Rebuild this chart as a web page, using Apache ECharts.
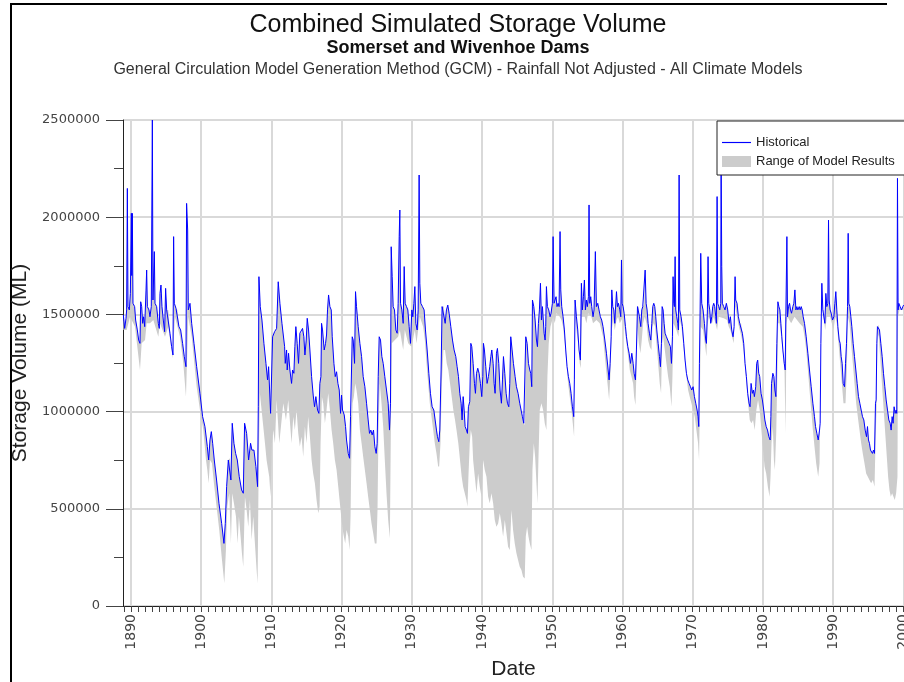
<!DOCTYPE html>
<html>
<head>
<meta charset="utf-8">
<script src="https://cdn.jsdelivr.net/npm/echarts@6/dist/echarts.min.js"></script>
<style>
  html, body { margin: 0; padding: 0; background: #fff; }
  #chart { width: 904px; height: 682px; }
</style>
</head>
<body>
<div id="chart"></div>
<script>
// decade labels on the date axis
var decades = [1890, 1900, 1910, 1920, 1930, 1940, 1950, 1960, 1970, 1980, 1990, 2000];

// historical storage volume (ML), [decimal year, volume]
var historical = [
  [1888.91,1497000],[1889.10,1428000],[1889.29,1480000],[1889.38,1523000],[1889.48,2148000],[1889.57,1540000],[1889.76,1523000],[1889.91,1608000],
  [1890.05,2020000],[1890.10,1700000],[1890.19,2020000],[1890.28,1557000],[1890.52,1540000],[1890.66,1471000],[1890.90,1420000],[1891.09,1368000],
  [1891.28,1351000],[1891.38,1565000],[1891.52,1540000],[1891.66,1454000],[1891.80,1488000],[1891.95,1437000],[1892.14,1625000],[1892.23,1728000],
  [1892.33,1540000],[1892.56,1523000],[1892.70,1488000],[1892.89,1540000],[1893.04,2500000],[1893.13,1574000],[1893.32,1823000],[1893.42,1557000],
  [1893.65,1540000],[1893.89,1454000],[1894.03,1428000],[1894.13,1608000],[1894.27,1651000],[1894.41,1540000],[1894.60,1471000],[1894.79,1411000],
  [1894.93,1634000],[1895.08,1523000],[1895.31,1523000],[1895.55,1403000],[1895.79,1334000],[1895.98,1291000],[1896.07,1900000],[1896.17,1557000],
  [1896.41,1531000],[1896.60,1523000],[1896.83,1437000],[1897.07,1420000],[1897.35,1351000],[1897.59,1283000],[1897.83,1231000],[1897.92,2071000],
  [1898.07,1934000],[1898.16,1523000],[1898.40,1557000],[1898.64,1454000],[1898.97,1351000],[1899.35,1231000],[1899.82,1094000],[1900.20,974000],
  [1900.53,923000],[1900.87,820000],[1901.06,751000],[1901.25,854000],[1901.44,897000],[1901.63,837000],[1901.86,751000],[1902.19,648000],
  [1902.53,528000],[1902.91,425000],[1903.24,322000],[1903.43,425000],[1903.62,614000],[1903.86,751000],[1904.09,760000],[1904.23,648000],
  [1904.42,940000],[1904.66,837000],[1904.90,785000],[1905.14,751000],[1905.42,665000],[1905.75,597000],[1905.99,580000],[1906.18,940000],
  [1906.47,888000],[1906.75,751000],[1907.03,837000],[1907.22,802000],[1907.51,802000],[1907.79,717000],[1908.03,614000],[1908.13,1025000],
  [1908.22,1694000],[1908.41,1540000],[1908.65,1471000],[1908.93,1351000],[1909.22,1248000],[1909.45,1163000],[1909.60,1231000],[1909.88,991000],
  [1910.02,1000000],[1910.17,1385000],[1910.45,1411000],[1910.74,1428000],[1910.97,1668000],[1911.21,1557000],[1911.50,1454000],[1911.88,1334000],
  [1911.97,1248000],[1912.16,1317000],[1912.25,1214000],[1912.44,1300000],[1912.63,1214000],[1912.87,1145000],[1913.01,1214000],[1913.20,1197000],
  [1913.34,1334000],[1913.48,1437000],[1913.67,1351000],[1913.86,1248000],[1914.05,1403000],[1914.24,1403000],[1914.43,1428000],[1914.62,1385000],
  [1914.77,1291000],[1914.96,1368000],[1915.10,1480000],[1915.29,1420000],[1915.48,1317000],[1915.72,1180000],[1915.95,1085000],[1916.14,1025000],
  [1916.33,1077000],[1916.57,1008000],[1916.76,991000],[1916.90,1145000],[1917.05,1180000],[1917.14,1454000],[1917.28,1420000],[1917.52,1317000],
  [1917.71,1351000],[1917.85,1394000],[1917.99,1523000],[1918.14,1600000],[1918.33,1540000],[1918.52,1523000],[1918.66,1385000],[1918.90,1248000],
  [1919.09,1180000],[1919.28,1205000],[1919.47,1145000],[1919.66,1111000],[1919.85,991000],[1919.99,1085000],[1920.13,1008000],[1920.37,983000],
  [1920.56,923000],[1920.70,854000],[1920.94,785000],[1921.13,760000],[1921.27,974000],[1921.41,983000],[1921.51,1385000],[1921.65,1368000],
  [1921.84,1248000],[1921.98,1617000],[1922.12,1540000],[1922.36,1437000],[1922.60,1351000],[1922.84,1283000],[1923.07,1180000],[1923.31,1128000],
  [1923.55,1043000],[1923.78,957000],[1923.97,888000],[1924.16,905000],[1924.35,880000],[1924.54,905000],[1924.73,820000],[1924.92,785000],
  [1925.06,837000],[1925.21,1180000],[1925.35,1385000],[1925.54,1368000],[1925.73,1283000],[1925.92,1248000],[1926.15,1180000],[1926.39,1111000],
  [1926.63,1043000],[1926.82,905000],[1926.96,1043000],[1927.06,1848000],[1927.20,1694000],[1927.34,1540000],[1927.53,1523000],[1927.72,1420000],
  [1927.91,1403000],[1928.05,1557000],[1928.20,1900000],[1928.29,2037000],[1928.39,1557000],[1928.58,1523000],[1928.77,1454000],[1928.91,1746000],
  [1929.05,1557000],[1929.24,1540000],[1929.43,1523000],[1929.62,1437000],[1929.81,1351000],[1930.00,1523000],[1930.14,1488000],[1930.29,1557000],
  [1930.43,1643000],[1930.57,1454000],[1930.76,1420000],[1930.90,1523000],[1931.04,2217000],[1931.14,1660000],[1931.28,1557000],[1931.52,1540000],
  [1931.75,1523000],[1931.94,1420000],[1932.18,1317000],[1932.42,1197000],[1932.65,1094000],[1932.89,1025000],[1933.13,1008000],[1933.32,957000],
  [1933.51,905000],[1933.65,871000],[1933.84,845000],[1933.98,905000],[1934.17,1214000],[1934.31,1540000],[1934.56,1540000],[1934.75,1454000],
  [1934.93,1523000],[1935.12,1548000],[1935.31,1506000],[1935.55,1437000],[1935.79,1368000],[1936.02,1317000],[1936.26,1283000],[1936.45,1231000],
  [1936.64,1180000],[1936.83,1094000],[1937.02,1043000],[1937.16,957000],[1937.31,1077000],[1937.45,1008000],[1937.59,923000],[1937.78,905000],
  [1937.92,888000],[1938.06,1025000],[1938.25,1051000],[1938.40,1351000],[1938.54,1334000],[1938.73,1248000],[1938.92,1145000],[1939.06,1094000],
  [1939.21,1197000],[1939.39,1223000],[1939.58,1197000],[1939.77,1145000],[1939.96,1077000],[1940.11,1180000],[1940.20,1351000],[1940.34,1317000],
  [1940.53,1231000],[1940.72,1145000],[1940.91,1180000],[1941.10,1231000],[1941.25,1283000],[1941.39,1317000],[1941.58,1248000],[1941.72,1145000],
  [1941.86,1094000],[1942.05,1300000],[1942.19,1325000],[1942.38,1248000],[1942.57,1111000],[1942.76,1043000],[1942.91,1163000],[1943.05,1283000],
  [1943.24,1197000],[1943.43,1094000],[1943.62,1043000],[1943.81,1025000],[1943.95,1145000],[1944.09,1385000],[1944.28,1317000],[1944.47,1248000],
  [1944.71,1180000],[1944.90,1128000],[1945.13,1094000],[1945.37,1043000],[1945.56,1008000],[1945.75,974000],[1945.94,940000],[1946.09,931000],
  [1946.23,1385000],[1946.42,1351000],[1946.61,1248000],[1946.80,1214000],[1946.94,1197000],[1947.08,1128000],[1947.18,1574000],[1947.37,1540000],
  [1947.56,1471000],[1947.75,1368000],[1947.89,1334000],[1948.03,1454000],[1948.17,1523000],[1948.32,1660000],[1948.46,1471000],[1948.60,1540000],
  [1948.84,1403000],[1948.98,1368000],[1949.07,1437000],[1949.17,1643000],[1949.31,1540000],[1949.50,1523000],[1949.69,1488000],[1949.83,1506000],
  [1950.02,1557000],[1950.12,1900000],[1950.26,1557000],[1950.40,1548000],[1950.54,1591000],[1950.68,1540000],[1950.83,1557000],[1950.97,1540000],
  [1951.11,1926000],[1951.21,1626000],[1951.35,1540000],[1951.54,1488000],[1951.73,1420000],[1951.92,1317000],[1952.11,1231000],[1952.30,1180000],
  [1952.49,1145000],[1952.68,1094000],[1952.87,1025000],[1953.06,974000],[1953.15,1163000],[1953.25,1574000],[1953.44,1488000],[1953.63,1420000],
  [1953.82,1317000],[1954.01,1265000],[1954.15,1660000],[1954.29,1523000],[1954.44,1591000],[1954.58,1677000],[1954.72,1523000],[1954.86,1574000],
  [1955.00,1540000],[1955.15,1591000],[1955.24,2063000],[1955.34,1557000],[1955.48,1591000],[1955.62,1540000],[1955.81,1488000],[1955.95,1523000],
  [1956.14,1823000],[1956.29,1540000],[1956.48,1557000],[1956.66,1523000],[1956.85,1488000],[1957.04,1471000],[1957.23,1437000],[1957.49,1368000],
  [1957.72,1300000],[1957.96,1214000],[1958.10,1163000],[1958.24,1248000],[1958.39,1385000],[1958.48,1626000],[1958.62,1540000],[1958.77,1523000],
  [1958.91,1454000],[1959.00,1523000],[1959.15,1617000],[1959.29,1540000],[1959.43,1557000],[1959.62,1523000],[1959.76,1488000],[1959.86,1780000],
  [1959.95,1557000],[1960.09,1540000],[1960.24,1506000],[1960.43,1437000],[1960.57,1385000],[1960.76,1334000],[1960.95,1300000],[1961.14,1248000],
  [1961.33,1300000],[1961.52,1248000],[1961.66,1197000],[1961.85,1163000],[1961.99,1317000],[1962.14,1540000],[1962.28,1540000],[1962.42,1488000],
  [1962.61,1437000],[1962.75,1523000],[1962.89,1540000],[1963.08,1548000],[1963.23,1728000],[1963.37,1557000],[1963.51,1523000],[1963.65,1454000],
  [1963.84,1403000],[1964.03,1368000],[1964.18,1454000],[1964.32,1540000],[1964.46,1557000],[1964.60,1540000],[1964.74,1488000],[1964.89,1420000],
  [1965.08,1351000],[1965.27,1283000],[1965.41,1231000],[1965.55,1351000],[1965.65,1540000],[1965.79,1523000],[1965.93,1454000],[1966.07,1403000],
  [1966.26,1385000],[1966.45,1368000],[1966.64,1351000],[1966.83,1334000],[1966.98,1248000],[1967.12,1385000],[1967.21,1694000],[1967.31,1557000],
  [1967.40,1540000],[1967.50,1797000],[1967.59,1523000],[1967.73,1488000],[1967.88,1454000],[1967.97,1420000],[1968.07,2217000],[1968.16,1523000],
  [1968.35,1488000],[1968.54,1437000],[1968.73,1351000],[1968.92,1265000],[1969.11,1197000],[1969.30,1163000],[1969.49,1145000],[1969.68,1128000],
  [1969.87,1111000],[1970.06,1128000],[1970.25,1077000],[1970.44,1043000],[1970.63,1008000],[1970.77,974000],[1970.87,923000],[1970.96,1248000],
  [1971.06,1523000],[1971.15,1814000],[1971.29,1557000],[1971.48,1523000],[1971.67,1454000],[1971.86,1368000],[1971.96,1351000],[1972.10,1523000],
  [1972.19,1797000],[1972.29,1557000],[1972.43,1523000],[1972.57,1454000],[1972.72,1488000],[1972.86,1540000],[1973.00,1557000],[1973.14,1540000],
  [1973.29,1488000],[1973.38,1454000],[1973.48,2106000],[1973.57,1557000],[1973.71,1540000],[1973.86,1523000],[1974.00,1557000],[1974.05,2350000],
  [1974.14,1746000],[1974.23,1557000],[1974.42,1540000],[1974.61,1523000],[1974.80,1557000],[1974.99,1523000],[1975.18,1454000],[1975.37,1488000],
  [1975.56,1420000],[1975.75,1385000],[1975.90,1437000],[1976.04,1694000],[1976.13,1574000],[1976.32,1557000],[1976.51,1488000],[1976.70,1454000],
  [1976.89,1454000],[1977.08,1403000],[1977.27,1351000],[1977.46,1248000],[1977.65,1180000],[1977.84,1094000],[1978.03,1043000],[1978.17,1025000],
  [1978.32,1145000],[1978.51,1094000],[1978.65,1111000],[1978.79,1077000],[1978.98,1128000],[1979.12,1248000],[1979.26,1265000],[1979.41,1197000],
  [1979.55,1180000],[1979.74,1094000],[1979.93,1060000],[1980.12,1008000],[1980.28,957000],[1980.47,923000],[1980.66,905000],[1980.85,871000],
  [1981.04,854000],[1981.14,974000],[1981.23,1145000],[1981.42,1197000],[1981.57,1180000],[1981.71,1111000],[1981.85,1077000],[1981.99,1351000],
  [1982.14,1565000],[1982.28,1540000],[1982.42,1523000],[1982.56,1454000],[1982.70,1385000],[1982.85,1317000],[1983.04,1248000],[1983.18,1214000],
  [1983.27,1488000],[1983.42,1900000],[1983.51,1488000],[1983.65,1540000],[1983.80,1557000],[1983.94,1523000],[1984.08,1506000],[1984.27,1540000],
  [1984.41,1557000],[1984.56,1626000],[1984.70,1523000],[1984.84,1540000],[1984.98,1523000],[1985.17,1540000],[1985.31,1523000],[1985.46,1540000],
  [1985.60,1523000],[1985.74,1488000],[1985.93,1454000],[1986.17,1385000],[1986.41,1300000],[1986.64,1214000],[1986.88,1128000],[1987.12,1043000],
  [1987.35,974000],[1987.50,923000],[1987.69,888000],[1987.88,854000],[1988.07,905000],[1988.16,940000],[1988.26,1351000],[1988.40,1660000],
  [1988.54,1523000],[1988.68,1523000],[1988.83,1454000],[1988.97,1608000],[1989.11,1540000],[1989.25,1557000],[1989.35,1985000],[1989.44,1574000],
  [1989.58,1523000],[1989.73,1506000],[1989.92,1471000],[1990.11,1488000],[1990.25,1557000],[1990.39,1617000],[1990.53,1523000],[1990.68,1437000],
  [1990.87,1368000],[1991.01,1351000],[1991.15,1283000],[1991.29,1248000],[1991.44,1145000],[1991.63,1128000],[1991.77,1248000],[1991.91,1351000],
  [1992.06,1540000],[1992.15,1917000],[1992.24,1557000],[1992.38,1540000],[1992.53,1488000],[1992.67,1437000],[1992.86,1351000],[1993.05,1283000],
  [1993.24,1214000],[1993.43,1145000],[1993.62,1077000],[1993.81,1043000],[1994.00,1008000],[1994.19,974000],[1994.38,957000],[1994.57,905000],
  [1994.76,871000],[1994.90,923000],[1995.04,854000],[1995.18,837000],[1995.33,802000],[1995.47,794000],[1995.61,785000],[1995.75,802000],
  [1995.90,785000],[1996.04,1043000],[1996.13,1060000],[1996.23,1351000],[1996.32,1437000],[1996.47,1446000],[1996.61,1420000],[1996.80,1351000],
  [1996.99,1283000],[1997.18,1197000],[1997.37,1128000],[1997.56,1060000],[1997.75,1008000],[1997.94,957000],[1998.13,940000],[1998.27,905000],
  [1998.41,974000],[1998.55,940000],[1998.69,1025000],[1998.84,991000],[1998.98,1008000],[1999.07,991000],[1999.17,2200000],[1999.26,1523000],
  [1999.36,1557000],[1999.55,1540000],[1999.74,1523000],[1999.93,1540000],[2000.05,1548000]
];

// lowest of the model results (ML), [decimal year, volume]; the band runs up to the historical line
var modelLow = [
  [1888.91,1420000],[1889.38,1420000],[1889.86,1488000],[1890.57,1437000],[1891.28,1214000],[1891.52,1351000],[1892.00,1368000],[1892.23,1454000],
  [1892.70,1454000],[1893.18,1471000],[1893.89,1385000],[1894.13,1454000],[1894.84,1385000],[1895.31,1437000],[1895.93,1274000],[1896.26,1488000],
  [1896.98,1385000],[1897.45,1248000],[1897.83,1077000],[1898.16,1488000],[1898.64,1385000],[1899.35,1128000],[1899.82,1008000],[1900.30,905000],
  [1900.68,751000],[1900.87,700000],[1901.06,631000],[1901.25,751000],[1901.53,734000],[1901.81,631000],[1902.19,511000],[1902.57,391000],
  [1902.91,254000],[1903.29,117000],[1903.52,288000],[1903.71,511000],[1904.00,580000],[1904.23,322000],[1904.42,580000],[1904.66,528000],
  [1904.95,460000],[1905.18,322000],[1905.37,460000],[1905.61,357000],[1905.80,271000],[1905.99,202000],[1906.23,562000],[1906.47,494000],
  [1906.70,408000],[1906.94,545000],[1907.18,340000],[1907.41,460000],[1907.65,322000],[1907.89,185000],[1908.03,117000],[1908.17,665000],
  [1908.36,1094000],[1908.60,1008000],[1908.84,923000],[1909.08,837000],[1909.31,751000],[1909.69,665000],[1909.88,562000],[1910.07,837000],
  [1910.26,905000],[1910.50,837000],[1910.74,1060000],[1911.12,837000],[1911.69,1043000],[1912.07,957000],[1912.40,1060000],[1912.87,837000],
  [1913.11,974000],[1913.34,905000],[1913.58,1008000],[1913.82,888000],[1914.05,820000],[1914.29,871000],[1914.53,768000],[1914.77,923000],
  [1915.00,837000],[1915.24,974000],[1915.48,871000],[1915.72,751000],[1915.95,682000],[1916.19,631000],[1916.43,545000],[1916.67,477000],
  [1916.86,511000],[1917.00,837000],[1917.19,1077000],[1917.38,1043000],[1917.62,940000],[1917.85,1008000],[1918.09,1094000],[1918.33,1008000],
  [1918.57,905000],[1918.80,837000],[1919.04,751000],[1919.28,700000],[1919.52,614000],[1919.75,528000],[1919.99,442000],[1920.23,374000],
  [1920.51,322000],[1920.70,391000],[1920.94,357000],[1921.13,288000],[1921.27,460000],[1921.41,837000],[1921.56,1043000],[1921.74,1077000],
  [1921.93,1145000],[1922.12,1111000],[1922.36,1043000],[1922.60,905000],[1922.84,837000],[1923.07,768000],[1923.31,700000],[1923.55,631000],
  [1923.78,562000],[1924.02,494000],[1924.26,425000],[1924.50,374000],[1924.73,322000],[1924.97,322000],[1925.11,494000],[1925.25,905000],
  [1925.44,1145000],[1925.68,1043000],[1925.92,923000],[1926.15,751000],[1926.39,580000],[1926.63,442000],[1926.87,348000],[1927.01,905000],
  [1927.15,1351000],[1927.58,1368000],[1928.05,1385000],[1928.29,1420000],[1928.77,1317000],[1929.00,1420000],[1929.48,1351000],[1929.95,1334000],
  [1930.43,1420000],[1930.66,1351000],[1931.14,1488000],[1931.61,1437000],[1931.85,1368000],[1932.09,1248000],[1932.32,1145000],[1932.56,1043000],
  [1932.80,974000],[1933.04,905000],[1933.27,837000],[1933.51,785000],[1933.75,717000],[1933.89,717000],[1934.08,837000],[1934.27,1145000],
  [1934.50,1317000],[1934.73,1317000],[1934.97,1248000],[1935.20,1214000],[1935.44,1145000],[1935.68,1077000],[1935.91,1008000],[1936.15,957000],
  [1936.36,905000],[1936.62,837000],[1936.86,751000],[1937.10,665000],[1937.31,614000],[1937.54,580000],[1937.78,545000],[1937.92,511000],
  [1938.06,665000],[1938.25,837000],[1938.40,905000],[1938.59,871000],[1938.73,751000],[1938.97,665000],[1939.21,580000],[1939.44,682000],
  [1939.68,614000],[1939.92,562000],[1940.15,751000],[1940.39,700000],[1940.63,665000],[1940.87,562000],[1941.10,528000],[1941.34,580000],
  [1941.58,528000],[1941.81,442000],[1942.05,408000],[1942.29,425000],[1942.53,477000],[1942.76,425000],[1943.00,357000],[1943.24,442000],
  [1943.48,374000],[1943.71,305000],[1943.95,288000],[1944.19,494000],[1944.42,391000],[1944.66,322000],[1944.90,271000],[1945.13,237000],
  [1945.37,202000],[1945.61,185000],[1945.84,151000],[1946.08,142000],[1946.23,357000],[1946.42,408000],[1946.61,357000],[1946.80,322000],
  [1947.04,288000],[1947.18,700000],[1947.37,837000],[1947.56,768000],[1947.75,631000],[1947.89,528000],[1948.03,751000],[1948.22,1008000],
  [1948.46,1043000],[1948.70,1008000],[1948.93,940000],[1949.17,905000],[1949.31,1180000],[1949.50,1351000],[1949.74,1437000],[1950.12,1488000],
  [1950.36,1454000],[1950.59,1506000],[1951.07,1488000],[1951.31,1471000],[1951.54,1437000],[1951.78,1351000],[1952.02,1248000],[1952.25,1145000],
  [1952.49,1077000],[1952.73,1008000],[1952.97,923000],[1953.11,871000],[1953.25,1488000],[1953.44,1420000],[1953.68,1351000],[1953.91,1248000],
  [1954.06,1223000],[1954.20,1488000],[1954.63,1488000],[1954.86,1454000],[1955.10,1506000],[1955.57,1488000],[1955.81,1454000],[1956.29,1471000],
  [1956.76,1454000],[1957.23,1385000],[1957.49,1283000],[1957.72,1197000],[1957.96,1111000],[1958.10,1060000],[1958.29,1197000],[1958.48,1420000],
  [1958.67,1471000],[1958.91,1420000],[1959.15,1471000],[1959.38,1488000],[1959.62,1454000],[1959.86,1471000],[1960.09,1488000],[1960.33,1420000],
  [1960.57,1351000],[1960.81,1283000],[1961.04,1214000],[1961.28,1180000],[1961.52,1145000],[1961.66,1077000],[1961.85,1034000],[1961.99,1197000],
  [1962.14,1437000],[1962.33,1351000],[1962.56,1300000],[1962.75,1368000],[1962.94,1454000],[1963.18,1488000],[1963.42,1454000],[1963.65,1368000],
  [1963.89,1334000],[1964.13,1317000],[1964.27,1437000],[1964.46,1454000],[1964.65,1437000],[1964.84,1351000],[1965.08,1248000],[1965.31,1145000],
  [1965.50,1094000],[1965.65,1351000],[1965.79,1385000],[1966.03,1317000],[1966.26,1248000],[1966.50,1180000],[1966.74,1128000],[1966.98,1025000],
  [1967.12,1180000],[1967.26,1454000],[1967.69,1420000],[1967.97,1385000],[1968.16,1471000],[1968.40,1437000],[1968.64,1351000],[1968.87,1265000],
  [1969.11,1180000],[1969.35,1111000],[1969.58,1077000],[1969.82,1043000],[1970.06,1008000],[1970.30,974000],[1970.53,905000],[1970.77,837000],
  [1970.91,751000],[1971.01,1008000],[1971.15,1437000],[1971.48,1420000],[1971.72,1351000],[1971.96,1283000],[1972.10,1437000],[1972.29,1488000],
  [1972.76,1454000],[1973.00,1488000],[1973.48,1420000],[1973.71,1488000],[1974.42,1480000],[1974.90,1471000],[1975.14,1437000],[1975.37,1420000],
  [1975.61,1385000],[1975.85,1351000],[1976.04,1540000],[1976.23,1506000],[1976.47,1454000],[1976.70,1420000],[1976.94,1385000],[1977.18,1334000],
  [1977.41,1248000],[1977.65,1145000],[1977.89,1043000],[1978.13,957000],[1978.36,940000],[1978.60,957000],[1978.84,905000],[1979.07,1008000],
  [1979.31,1060000],[1979.55,1008000],[1979.79,905000],[1980.02,802000],[1980.24,717000],[1980.47,682000],[1980.71,614000],[1980.95,562000],
  [1981.09,665000],[1981.23,837000],[1981.42,923000],[1981.57,751000],[1981.71,700000],[1981.90,888000],[1982.04,1145000],[1982.18,1454000],
  [1982.37,1454000],[1982.61,1385000],[1982.85,1300000],[1983.08,1214000],[1983.23,888000],[1983.37,1450000],[1983.51,1488000],[1984.03,1454000],
  [1984.51,1488000],[1985.22,1454000],[1985.69,1437000],[1985.93,1385000],[1986.17,1317000],[1986.41,1214000],[1986.64,1111000],[1986.88,1008000],
  [1987.12,905000],[1987.35,820000],[1987.59,734000],[1987.88,665000],[1988.07,734000],[1988.21,1180000],[1988.40,1591000],[1988.64,1488000],
  [1988.87,1420000],[1989.11,1488000],[1989.58,1488000],[1989.82,1454000],[1990.06,1420000],[1990.30,1488000],[1990.53,1454000],[1990.77,1351000],
  [1991.01,1248000],[1991.25,1145000],[1991.48,1043000],[1991.77,1043000],[1991.96,1214000],[1992.10,1488000],[1992.34,1454000],[1992.57,1351000],
  [1992.81,1248000],[1993.05,1145000],[1993.29,1043000],[1993.52,974000],[1993.76,905000],[1994.00,837000],[1994.23,785000],[1994.47,734000],
  [1994.71,682000],[1994.95,665000],[1995.18,648000],[1995.42,631000],[1995.66,648000],[1995.90,614000],[1996.04,837000],[1996.18,1008000],
  [1996.32,1403000],[1996.51,1385000],[1996.70,1283000],[1996.89,1180000],[1997.08,1077000],[1997.27,974000],[1997.46,871000],[1997.65,768000],
  [1997.84,665000],[1998.03,597000],[1998.22,562000],[1998.41,580000],[1998.60,562000],[1998.79,545000],[1998.98,580000],[1999.17,665000],
  [1999.26,1488000],[1999.45,1523000],[1999.93,1523000],[2000.05,1523000]
];

// one minor tick a year along the date axis
var yearTicks = [];
for (var yr = 1889; yr <= 2000; yr++) {
  yearTicks.push(yr);
}

var chart = echarts.init(document.getElementById('chart'));

// grey band: up along the historical line, back along the model minimum
function renderBand(params, api) {
  if (params.dataIndex !== 0) {
    return null;
  }
  var pts = [];
  for (var i = 0; i < historical.length; i++) {
    pts.push(api.coord(historical[i]));
  }
  for (var j = modelLow.length - 1; j >= 0; j--) {
    pts.push(api.coord(modelLow[j]));
  }
  return {
    type: 'polygon',
    shape: { points: pts },
    style: { fill: '#cccccc', stroke: null },
    silent: true
  };
}

function plainNumber(v) {
  return String(v);
}

var option = {
  animation: false,
  backgroundColor: '#ffffff',
  grid: { left: 123, right: 0, top: 120, bottom: 76, outerBoundsMode: 'none', containLabel: false },
  legend: {
    orient: 'vertical',
    left: 717,
    top: 121,
    padding: [15, 12, 7, 5],
    itemGap: 6,
    itemWidth: 29,
    itemHeight: 11,
    backgroundColor: '#ffffff',
    borderColor: '#222222',
    borderWidth: 1,
    borderRadius: 0,
    textStyle: { fontFamily: 'Liberation Sans', fontSize: 13, color: '#222222' },
    data: [
      { name: 'Historical', icon: 'path://M0,0 L30,0 L30,1.2 L0,1.2 Z' },
      { name: 'Range of Model Results', icon: 'rect' }
    ]
  },
  xAxis: {
    type: 'value',
    min: 1888.86,
    max: 2000.1,
    name: 'Date',
    nameLocation: 'middle',
    nameGap: 53,
    nameTextStyle: { fontFamily: 'Liberation Sans', fontSize: 21, color: '#222222' },
    axisLine: { show: true, onZero: false, lineStyle: { color: '#222222', width: 1 } },
    axisTick: { show: true, customValues: yearTicks, length: 6, lineStyle: { color: '#444444' } },
    axisLabel: {
      customValues: decades,
      rotate: 90,
      margin: 8,
      fontFamily: 'DejaVu Sans',
      fontSize: 14,
      color: '#444444',
      formatter: plainNumber
    },
    splitLine: { show: false }
  },
  yAxis: {
    type: 'value',
    min: 0,
    max: 2500000,
    interval: 500000,
    name: 'Storage Volume (ML)',
    nameLocation: 'middle',
    nameGap: 77,
    nameTextStyle: { fontFamily: 'Liberation Sans', fontSize: 21, color: '#222222' },
    axisLine: { show: true, lineStyle: { color: '#222222', width: 1 } },
    axisTick: { show: true, length: 17, lineStyle: { color: '#444444' } },
    minorTick: { show: true, splitNumber: 2, length: 9, lineStyle: { color: '#444444' } },
    axisLabel: { margin: 23, fontFamily: 'DejaVu Sans', fontSize: 13, color: '#444444', formatter: plainNumber },
    splitLine: { show: true, lineStyle: { color: '#d9d9d9', width: 2 } }
  },
  graphic: [
    { type: 'line', shape: { x1: 11, y1: 4, x2: 11, y2: 682 }, style: { stroke: '#000', lineWidth: 2 } },
    { type: 'line', shape: { x1: 10, y1: 4, x2: 887, y2: 4 }, style: { stroke: '#000', lineWidth: 2 } },
    {
      type: 'text', x: 458, y: 25,
      style: { text: 'Combined Simulated Storage Volume', fill: '#111', font: '25px "Liberation Sans"', textAlign: 'center', textVerticalAlign: 'middle' }
    },
    {
      type: 'text', x: 458, y: 48,
      style: { text: 'Somerset and Wivenhoe Dams', fill: '#111', font: 'bold 18px "Liberation Sans"', textAlign: 'center', textVerticalAlign: 'middle' }
    },
    {
      type: 'text', x: 458, y: 70,
      style: { text: 'General Circulation Model Generation Method (GCM) - Rainfall Not Adjusted - All Climate Models', fill: '#333', font: '16px "Liberation Sans"', textAlign: 'center', textVerticalAlign: 'middle' }
    }
  ],
  series: [
    {
      // vertical grid lines at each decade
      type: 'line',
      name: 'decadeGrid',
      data: [],
      z: 1,
      silent: true,
      markLine: {
        z: 1,
        silent: true,
        symbol: ['none', 'none'],
        label: { show: false },
        lineStyle: { color: '#d9d9d9', width: 2, type: 'solid' },
        data: decades.map(function (d) { return { xAxis: d }; })
      }
    },
    {
      type: 'custom',
      name: 'Range of Model Results',
      data: modelLow,
      encode: { x: 0, y: 1 },
      renderItem: renderBand,
      itemStyle: { color: '#cccccc' },
      clip: true,
      z: 2
    },
    {
      type: 'line',
      name: 'Historical',
      data: historical,
      symbol: 'none',
      showSymbol: false,
      lineStyle: { color: '#0000ff', width: 1 },
      itemStyle: { color: '#0000ff' },
      z: 3
    }
  ]
};

chart.setOption(option);
</script>
</body>
</html>
